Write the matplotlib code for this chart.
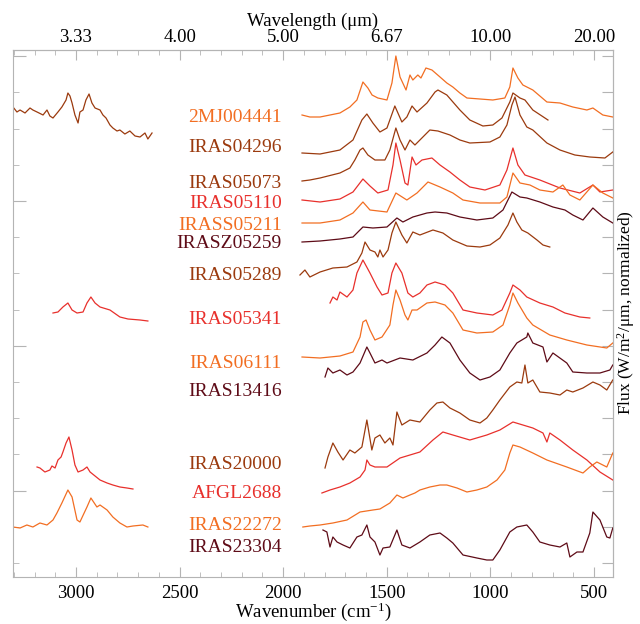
import matplotlib
matplotlib.use("Agg")
import matplotlib.pyplot as plt
from matplotlib.ticker import FixedLocator, MultipleLocator, NullFormatter

# ─── Spectra (wavenumber cm-1, offset normalized flux) ───────────────────────

wn_2mj = [1909, 1871, 1822, 1774, 1726, 1678, 1644, 1615, 1591, 1571, 1543, 1499, 1475, 1456,
          1436, 1407, 1388, 1374, 1350, 1335, 1311, 1282, 1243, 1210, 1181, 1147, 1113, 1050,
          988, 930, 906, 891, 867, 843, 795, 727, 664, 602, 534, 505, 457, 409]
fx_2mj = [4.62, 4.60, 4.60, 4.62, 4.64, 4.70, 4.77, 4.95, 4.89, 4.82, 4.79, 4.77, 4.94, 5.21,
          5.00, 4.87, 5.02, 4.97, 5.02, 4.99, 5.09, 5.07, 5.00, 4.94, 4.90, 4.84, 4.79, 4.78,
          4.77, 4.79, 4.90, 5.09, 4.99, 4.92, 4.87, 4.75, 4.74, 4.70, 4.67, 4.69, 4.62, 4.60]

wn_04296 = [1909, 1822, 1726, 1663, 1620, 1596, 1567, 1533, 1499, 1461, 1427, 1403, 1378, 1354,
            1306, 1267, 1253, 1210, 1147, 1099, 1036, 988, 944, 906, 891, 857, 833, 795, 722]
fx_04296 = [4.24, 4.23, 4.27, 4.37, 4.57, 4.63, 4.54, 4.45, 4.49, 4.71, 4.55, 4.60, 4.71, 4.65,
            4.74, 4.85, 4.87, 4.82, 4.67, 4.57, 4.51, 4.52, 4.59, 4.75, 4.84, 4.79, 4.77, 4.67, 4.57]
wn_04296_3um = [3304, 3285, 3270, 3246, 3222, 3208, 3188, 3159, 3140, 3126, 3111, 3087, 3068,
                3048, 3039, 3029, 3019, 3005, 2990, 2981, 2966, 2952, 2937, 2923, 2908, 2884,
                2870, 2855, 2836, 2822, 2802, 2788, 2764, 2740, 2715, 2691, 2667, 2653, 2633]
fx_04296_3um = [4.70, 4.65, 4.67, 4.64, 4.69, 4.67, 4.65, 4.62, 4.67, 4.61, 4.59, 4.65, 4.70,
                4.77, 4.84, 4.81, 4.74, 4.62, 4.54, 4.65, 4.67, 4.77, 4.83, 4.74, 4.69, 4.67,
                4.62, 4.59, 4.52, 4.49, 4.46, 4.47, 4.43, 4.46, 4.41, 4.40, 4.44, 4.38, 4.44]

wn_05073 = [1909, 1871, 1822, 1726, 1678, 1654, 1629, 1615, 1591, 1557, 1509, 1485, 1456, 1436,
            1412, 1388, 1364, 1340, 1292, 1253, 1195, 1147, 1099, 1002, 954, 920, 896, 881, 857,
            824, 795, 727, 664, 592, 520, 447, 409]
fx_05073 = [3.96, 3.97, 3.99, 4.04, 4.09, 4.17, 4.27, 4.29, 4.22, 4.17, 4.17, 4.27, 4.49, 4.37,
            4.27, 4.37, 4.32, 4.37, 4.47, 4.46, 4.42, 4.37, 4.34, 4.35, 4.40, 4.52, 4.72, 4.80, 4.62,
            4.50, 4.47, 4.34, 4.27, 4.22, 4.20, 4.19, 4.25]

wn_05110 = [1909, 1822, 1726, 1663, 1615, 1581, 1543, 1494, 1470, 1456, 1436, 1412, 1398, 1378,
            1359, 1330, 1282, 1243, 1195, 1147, 1099, 1026, 954, 920, 891, 867, 833, 761, 664,
            568, 505, 471, 409]
fx_05110 = [3.77, 3.75, 3.78, 3.85, 3.98, 3.91, 3.84, 3.87, 4.12, 4.34, 4.17, 3.94, 3.92, 4.20,
            4.12, 4.17, 4.19, 4.12, 4.05, 3.97, 3.90, 3.87, 3.92, 4.07, 4.29, 4.12, 4.02, 3.97, 3.89,
            3.84, 3.92, 3.85, 3.87]

wn_05211 = [1909, 1822, 1726, 1663, 1615, 1581, 1499, 1456, 1403, 1354, 1301, 1243, 1181, 1132,
            1050, 954, 920, 891, 857, 809, 761, 698, 650, 616, 568, 505, 457, 409]
fx_05211 = [3.54, 3.54, 3.57, 3.64, 3.75, 3.67, 3.65, 3.84, 3.77, 3.84, 3.95, 3.90, 3.84, 3.77,
            3.74, 3.74, 3.80, 4.04, 3.94, 3.92, 3.87, 3.85, 3.92, 3.82, 3.77, 3.92, 3.84, 3.79]

wn_05259 = [1909, 1822, 1726, 1663, 1615, 1567, 1499, 1451, 1422, 1374, 1306, 1267, 1210, 1147,
            1065, 988, 939, 896, 857, 824, 761, 698, 640, 602, 553, 505, 457, 409]
fx_05259 = [3.35, 3.36, 3.38, 3.40, 3.50, 3.49, 3.50, 3.59, 3.55, 3.60, 3.64, 3.65, 3.64, 3.60,
            3.57, 3.59, 3.67, 3.85, 3.80, 3.79, 3.75, 3.70, 3.67, 3.62, 3.57, 3.69, 3.60, 3.54]

wn_05289 = [1919, 1895, 1871, 1822, 1760, 1692, 1644, 1620, 1605, 1581, 1557, 1543, 1533, 1518,
            1494, 1475, 1456, 1427, 1403, 1374, 1340, 1277, 1229, 1181, 1113, 1050, 1002, 954,
            915, 891, 872, 848, 819, 775, 746, 713]
fx_05289 = [3.02, 3.07, 3.00, 3.05, 3.09, 3.10, 3.15, 3.24, 3.35, 3.27, 3.25, 3.20, 3.27, 3.20,
            3.27, 3.44, 3.55, 3.42, 3.34, 3.45, 3.42, 3.47, 3.44, 3.37, 3.31, 3.30, 3.32, 3.39,
            3.52, 3.64, 3.55, 3.47, 3.44, 3.37, 3.32, 3.30]

wn_05341 = [1774, 1760, 1740, 1726, 1692, 1663, 1644, 1615, 1581, 1547, 1523, 1494, 1475, 1456,
            1427, 1398, 1374, 1340, 1306, 1267, 1219, 1181, 1132, 1065, 988, 944, 906, 891, 857,
            824, 761, 698, 640, 568, 520]
fx_05341 = [2.74, 2.80, 2.77, 2.85, 2.80, 2.87, 3.04, 3.17, 3.04, 2.90, 2.82, 2.84, 3.04, 3.14,
            3.04, 2.84, 2.80, 2.84, 2.92, 2.95, 2.92, 2.84, 2.67, 2.64, 2.62, 2.67, 2.84, 2.92, 2.87,
            2.80, 2.74, 2.70, 2.64, 2.60, 2.59]
wn_05341_3um = [3111, 3087, 3063, 3039, 3019, 2995, 2966, 2947, 2928, 2908, 2884, 2836, 2788,
                2749, 2691, 2653]
fx_05341_3um = [2.64, 2.65, 2.70, 2.74, 2.67, 2.64, 2.65, 2.74, 2.80, 2.74, 2.70, 2.67, 2.60,
                2.58, 2.57, 2.56]

wn_06111 = [1909, 1822, 1726, 1663, 1629, 1615, 1600, 1581, 1557, 1523, 1485, 1470, 1456, 1436,
            1412, 1398, 1378, 1354, 1306, 1267, 1219, 1181, 1132, 1065, 988, 939, 906, 891, 867,
            824, 795, 713, 631, 534, 438, 409]
fx_06111 = [2.20, 2.19, 2.21, 2.25, 2.40, 2.55, 2.57, 2.47, 2.37, 2.40, 2.52, 2.72, 2.87, 2.77,
            2.62, 2.57, 2.67, 2.67, 2.74, 2.75, 2.72, 2.64, 2.47, 2.44, 2.45, 2.52, 2.72, 2.84, 2.74,
            2.59, 2.52, 2.42, 2.37, 2.32, 2.29, 2.34]

wn_13416 = [1798, 1784, 1760, 1726, 1692, 1663, 1629, 1596, 1581, 1557, 1523, 1499, 1436, 1374,
            1306, 1267, 1234, 1195, 1147, 1099, 1050, 1002, 954, 906, 872, 824, 819, 795, 746,
            727, 698, 631, 602, 534, 471, 423, 409]
fx_13416 = [2.00, 2.09, 2.04, 2.07, 2.02, 2.05, 2.14, 2.30, 2.24, 2.14, 2.17, 2.14, 2.19, 2.17,
            2.24, 2.32, 2.40, 2.34, 2.17, 2.04, 1.97, 2.00, 2.07, 2.24, 2.34, 2.40, 2.44, 2.34, 2.30,
            2.15, 2.24, 2.14, 2.05, 2.04, 2.04, 2.07, 2.12]

wn_20000 = [1798, 1784, 1760, 1736, 1711, 1678, 1654, 1620, 1596, 1572, 1557, 1533, 1509, 1485,
            1470, 1451, 1427, 1388, 1340, 1292, 1258, 1229, 1195, 1147, 1099, 1050, 1017, 988,
            954, 906, 872, 848, 833, 819, 795, 761, 713, 664, 631, 602, 553, 505, 471, 438, 409]
fx_20000 = [1.09, 1.20, 1.34, 1.25, 1.17, 1.27, 1.24, 1.30, 1.57, 1.27, 1.39, 1.42, 1.34, 1.39,
            1.32, 1.65, 1.52, 1.57, 1.55, 1.67, 1.74, 1.75, 1.69, 1.64, 1.57, 1.54, 1.59, 1.67,
            1.77, 1.90, 1.95, 1.94, 2.12, 1.94, 1.97, 1.85, 1.84, 1.82, 1.87, 1.85, 1.89, 1.95,
            1.92, 1.87, 1.97]

wn_2688 = [1813, 1774, 1726, 1678, 1629, 1605, 1596, 1581, 1557, 1499, 1436, 1340, 1277, 1229,
           1181, 1099, 1017, 954, 891, 843, 795, 746, 727, 713, 664, 602, 534, 471, 409]
fx_2688 = [0.84, 0.87, 0.90, 0.94, 1.00, 1.07, 1.17, 1.12, 1.10, 1.10, 1.19, 1.25, 1.37, 1.45,
           1.42, 1.37, 1.42, 1.47, 1.55, 1.52, 1.49, 1.44, 1.35, 1.44, 1.37, 1.27, 1.17, 1.05, 0.97]
wn_2688_3um = [3188, 3174, 3150, 3126, 3116, 3101, 3087, 3072, 3063, 3048, 3034, 3019, 3005,
               2990, 2966, 2947, 2932, 2908, 2884, 2850, 2822, 2788, 2754, 2725]
fx_2688_3um = [1.10, 1.09, 1.05, 1.07, 1.11, 1.09, 1.17, 1.20, 1.25, 1.34, 1.40, 1.27, 1.12,
               1.05, 1.07, 1.10, 1.05, 1.01, 0.97, 0.94, 0.92, 0.90, 0.89, 0.88]

wn_22272 = [1905, 1871, 1822, 1760, 1692, 1629, 1567, 1533, 1485, 1451, 1422, 1388, 1364, 1340,
            1292, 1243, 1210, 1161, 1113, 1065, 1017, 968, 930, 906, 891, 857, 795, 727, 631,
            553, 520, 486, 438, 409]
fx_22272 = [0.50, 0.51, 0.52, 0.54, 0.57, 0.65, 0.67, 0.68, 0.74, 0.82, 0.79, 0.82, 0.84, 0.87,
            0.90, 0.92, 0.92, 0.89, 0.85, 0.87, 0.90, 0.97, 1.07, 1.24, 1.32, 1.30, 1.24, 1.17,
            1.10, 1.04, 1.10, 1.15, 1.10, 1.24]
wn_22272_3um = [3304, 3270, 3237, 3208, 3174, 3140, 3111, 3092, 3068, 3039, 3019, 2995, 2981,
                2947, 2928, 2899, 2884, 2850, 2822, 2788, 2754, 2725, 2677, 2653]
fx_22272_3um = [0.50, 0.49, 0.52, 0.50, 0.54, 0.52, 0.57, 0.64, 0.74, 0.87, 0.80, 0.57, 0.55,
                0.70, 0.79, 0.70, 0.72, 0.67, 0.60, 0.54, 0.50, 0.51, 0.52, 0.50]

wn_23304 = [1808, 1789, 1774, 1760, 1740, 1711, 1678, 1644, 1620, 1596, 1581, 1557, 1533, 1518,
            1485, 1451, 1427, 1388, 1340, 1292, 1243, 1210, 1181, 1132, 1065, 1017, 988, 954,
            906, 872, 824, 795, 761, 713, 664, 631, 616, 582, 553, 520, 505, 471, 438, 423, 409]
fx_23304 = [0.47, 0.45, 0.30, 0.40, 0.35, 0.32, 0.29, 0.40, 0.42, 0.52, 0.40, 0.35, 0.22, 0.29,
            0.30, 0.47, 0.32, 0.29, 0.35, 0.42, 0.44, 0.39, 0.34, 0.22, 0.19, 0.17, 0.17, 0.27,
            0.45, 0.50, 0.52, 0.45, 0.35, 0.32, 0.30, 0.34, 0.20, 0.25, 0.25, 0.44, 0.65, 0.57,
            0.40, 0.39, 0.49]

# ─── Labels ──────────────────────────────────────────────────────────────────

ORANGE = "#f26e22"
BROWN = "#9b3a0e"
RED = "#e8302c"
MAROON = "#5e0b17"

names = ["2MJ004441", "IRAS04296", "IRAS05073", "IRAS05110", "IRASS05211", "IRASZ05259",
         "IRAS05289", "IRAS05341", "IRAS06111", "IRAS13416", "IRAS20000", "AFGL2688",
         "IRAS22272", "IRAS23304"]
name_y = [4.59, 4.30, 3.94, 3.73, 3.52, 3.33, 3.01, 2.57, 2.14, 1.85, 1.13, 0.83, 0.52, 0.29]
colors = [ORANGE, BROWN, BROWN, RED, ORANGE, MAROON, BROWN, RED, ORANGE, MAROON, BROWN, RED,
          ORANGE, MAROON]

mid_ir = [(wn_2mj, fx_2mj), (wn_04296, fx_04296), (wn_05073, fx_05073), (wn_05110, fx_05110),
          (wn_05211, fx_05211), (wn_05259, fx_05259), (wn_05289, fx_05289), (wn_05341, fx_05341),
          (wn_06111, fx_06111), (wn_13416, fx_13416), (wn_20000, fx_20000), (wn_2688, fx_2688),
          (wn_22272, fx_22272), (wn_23304, fx_23304)]
near_ir = [(wn_04296_3um, fx_04296_3um, BROWN), (wn_05341_3um, fx_05341_3um, RED),
           (wn_2688_3um, fx_2688_3um, RED), (wn_22272_3um, fx_22272_3um, ORANGE)]

top_ticks = [3000, 2500, 2000, 1500, 1000, 500]
top_labels = ["3.33", "4.00", "5.00", "6.67", "10.00", "20.00"]
y_minor = [0.14 + 0.362 * k for k in range(15)]
y_major = y_minor[2::4]

# ─── Figure ──────────────────────────────────────────────────────────────────

plt.rcParams.update({
    "font.family": ["Liberation Serif", "DejaVu Serif"],
    "mathtext.fontset": "custom",
    "mathtext.rm": "Liberation Serif",
    "mathtext.it": "Liberation Serif:italic",
    "font.size": 13.5,
})
AXIS_GRAY = "#b4b4b4"

fig = plt.figure(figsize=(6.4, 6.24), dpi=100)
ax = fig.add_axes([13 / 640, 1 - 577 / 624, 600 / 640, 527 / 624])

for (wn, fx), c in zip(mid_ir, colors):
    ax.plot(wn, fx, color=c, lw=0.9)
for wn, fx, c in near_ir:
    ax.plot(wn, fx, color=c, lw=0.9)

for name, y, c in zip(names, name_y, colors):
    ax.text(2006, y, name, color=c, fontsize=14, ha="right", va="center")

ax.set_xlim(3304, 408)
ax.set_ylim(0, 5.27)

for s in ax.spines.values():
    s.set_color(AXIS_GRAY)

ax.xaxis.set_major_locator(MultipleLocator(500))
ax.xaxis.set_minor_locator(MultipleLocator(100))
ax.tick_params(axis="x", which="major", direction="in", length=7, color=AXIS_GRAY, pad=6)
ax.tick_params(axis="x", which="minor", direction="in", length=3.5, color=AXIS_GRAY)
ax.set_xlabel("Wavenumber (cm$^{-1}$)", labelpad=-1)

ax.yaxis.set_major_locator(FixedLocator(y_major))
ax.yaxis.set_minor_locator(FixedLocator(y_minor))
ax.yaxis.set_major_formatter(NullFormatter())
ax.tick_params(axis="y", which="major", direction="in", length=9, color=AXIS_GRAY)
ax.tick_params(axis="y", which="minor", direction="in", length=4.3, color=AXIS_GRAY)

top = ax.secondary_xaxis("top")
top.set_xticks(top_ticks, top_labels)
top.xaxis.set_minor_locator(MultipleLocator(100))
top.tick_params(which="major", direction="in", length=7, color=AXIS_GRAY, pad=3)
top.tick_params(which="minor", direction="in", length=3.5, color=AXIS_GRAY)
top.spines["top"].set_color(AXIS_GRAY)
top.set_xlabel("Wavelength (μm)", labelpad=2)

right = ax.secondary_yaxis("right")
right.set_yticks(y_minor)
right.yaxis.set_major_formatter(NullFormatter())
right.tick_params(direction="in", length=8, color=AXIS_GRAY)
right.spines["right"].set_color(AXIS_GRAY)

# right-hand axis title placed by hand so it stays inside the canvas
fig.text(626 / 640, 1 - 313 / 624, "Flux (W/m$^2$/μm, normalized)", rotation=90,
         ha="center", va="center", fontsize=12.5)

fig.savefig("out.png", dpi=100)
plt.close(fig)
